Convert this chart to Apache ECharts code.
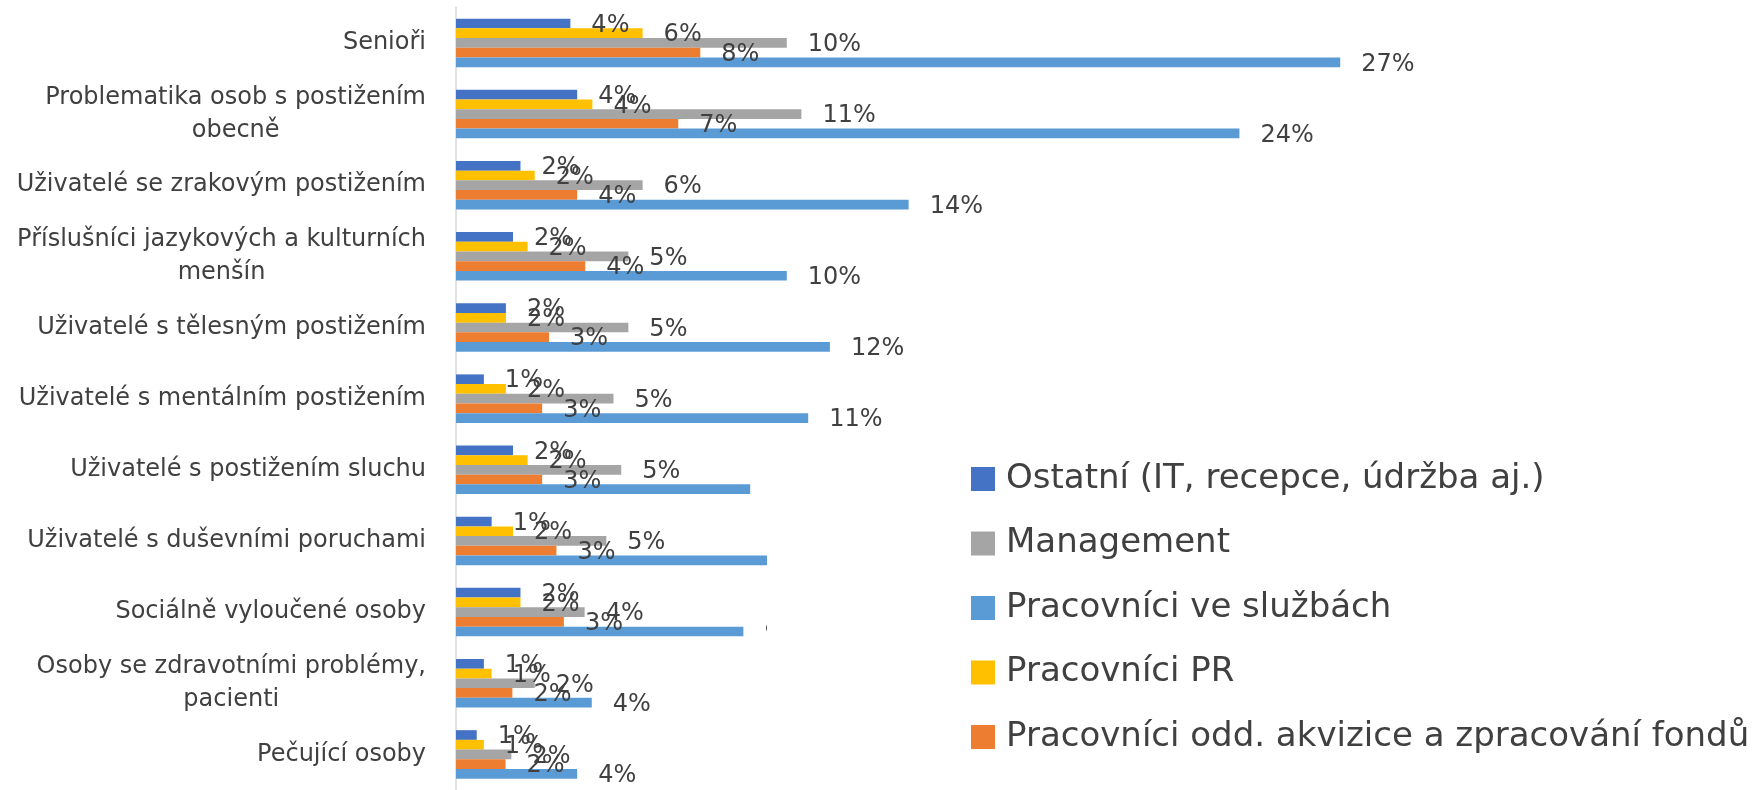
<!DOCTYPE html>
<html>
<head>
<meta charset="utf-8">
<script src="https://cdn.jsdelivr.net/npm/echarts@6/dist/echarts.min.js"></script>
<style>
html,body{margin:0;padding:0;background:#fff;}
#chart{width:1752px;height:790px;}
</style>
</head>
<body>
<div id="chart"></div>
<script>
const categories = [
  'Senioři',
  'Problematika osob s postižením\nobecně',
  'Uživatelé se zrakovým postižením',
  'Příslušníci jazykových a kulturních\nmenšín',
  'Uživatelé s tělesným postižením',
  'Uživatelé s mentálním postižením',
  'Uživatelé s postižením sluchu',
  'Uživatelé s duševními poruchami',
  'Sociálně vyloučené osoby',
  'Osoby se zdravotními problémy,\npacienti',
  'Pečující osoby'
];
const ostatni    = [3.53, 3.74, 1.99, 1.76, 1.54, 0.86, 1.76, 1.10, 1.99, 0.86, 0.64];
const pr         = [5.76, 4.21, 2.43, 2.21, 1.54, 1.54, 2.21, 1.76, 1.99, 1.10, 0.86];
const management = [10.21, 10.66, 5.76, 5.32, 5.32, 4.86, 5.10, 4.64, 3.97, 2.43, 1.71];
const akvizice   = [7.54, 6.86, 3.74, 3.99, 2.87, 2.66, 2.66, 3.10, 3.33, 1.74, 1.53];
const sluzby     = [27.29, 24.18, 13.97, 10.21, 11.54, 10.87, 9.08, 9.80, 8.87, 4.19, 3.74];

const seriesNames = {
  ostatni: 'Ostatní (IT, recepce, údržba aj.)',
  management: 'Management',
  sluzby: 'Pracovníci ve službách',
  pr: 'Pracovníci PR',
  akvizice: 'Pracovníci odd. akvizice a zpracování fondů'
};
const legendOrder = [seriesNames.ostatni, seriesNames.management, seriesNames.sluzby, seriesNames.pr, seriesNames.akvizice];

const FONT = '"DejaVu Sans", "Open Sans", sans-serif';
const TEXT = '#404040';

function barSeries(name, data, color) {
  return {
    name: name,
    type: 'bar',
    data: data,
    barWidth: 9.7,
    barGap: '0%',
    itemStyle: { color: color },
    label: {
      show: true,
      position: 'right',
      distance: 21,
      offset: [0, 2],
      color: TEXT,
      fontFamily: FONT,
      fontSize: 24,
      formatter: p => Math.round(p.value) + '%'
    }
  };
}

const chart = echarts.init(document.getElementById('chart'), null, { renderer: 'canvas' });
const PX_PER_PCT = 32.5;
const XMAX = 40;
chart.setOption({
  animation: false,
  backgroundColor: '#fff',
  grid: { left: 456, top: 7.3, width: PX_PER_PCT * XMAX, height: 786, containLabel: false },
  xAxis: {
    type: 'value', min: 0, max: XMAX, show: false
  },
  yAxis: {
    type: 'category',
    data: categories,
    inverse: true,
    axisLine: { show: true, lineStyle: { color: '#d9d9d9', width: 1.5 } },
    axisTick: { show: false },
    axisLabel: {
      margin: 30,
      align: 'right',
      color: TEXT,
      fontFamily: FONT,
      fontSize: 24,
      lineHeight: 33,
      formatter: v => v.split('\n').map(l => '{c|' + l + '}').join('\n'),
      rich: { c: { align: 'center', color: TEXT, fontFamily: FONT, fontSize: 24, lineHeight: 33 } }
    }
  },
  legend: {
    orient: 'vertical',
    left: 767,
    top: 440,
    data: legendOrder,
    backgroundColor: '#fff',
    padding: [19, 60, 8, 204],
    itemWidth: 24,
    itemHeight: 24,
    itemGap: 24.5,
    icon: 'rect',
    textStyle: { color: TEXT, fontFamily: FONT, fontSize: 34, lineHeight: 40, padding: [0, 0, 0, 6] }
  },
  series: [
    barSeries(seriesNames.ostatni, ostatni, '#4472C4'),
    barSeries(seriesNames.pr, pr, '#FFC000'),
    barSeries(seriesNames.management, management, '#A5A5A5'),
    barSeries(seriesNames.akvizice, akvizice, '#ED7D31'),
    barSeries(seriesNames.sluzby, sluzby, '#5B9BD5')
  ]
});
</script>
</body>
</html>
